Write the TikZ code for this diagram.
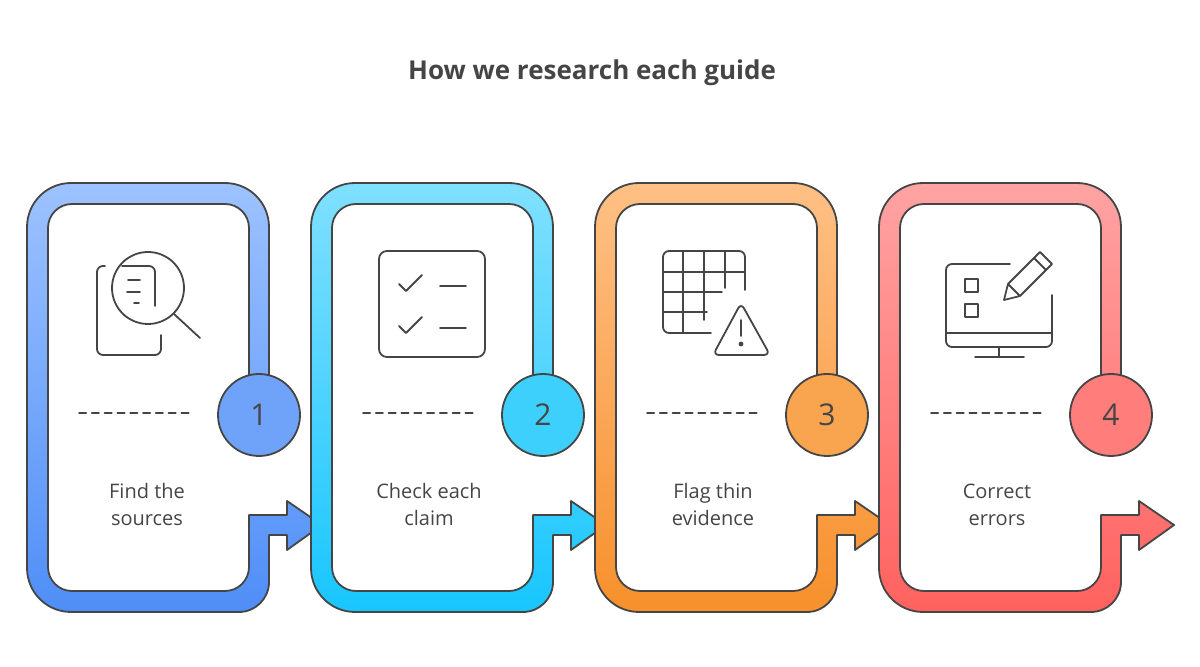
\documentclass[tikz,border=0pt]{standalone}
\usepackage{fontspec}
\setmainfont{Open Sans}
\definecolor{ink}{HTML}{454545}
\definecolor{blueT}{HTML}{9DC2FF}\definecolor{blueB}{HTML}{4F8EF7}\definecolor{blueC}{HTML}{6FA3FA}
\definecolor{cyanT}{HTML}{80E0FF}\definecolor{cyanB}{HTML}{18C6FF}\definecolor{cyanC}{HTML}{3DD0FC}
\definecolor{orngT}{HTML}{FFC085}\definecolor{orngB}{HTML}{F7902C}\definecolor{orngC}{HTML}{F9A54F}
\definecolor{redT}{HTML}{FFA3A3}\definecolor{redB}{HTML}{FF625F}\definecolor{redC}{HTML}{FF7D7A}
\newcommand{\stepband}[5]{% offset, top, bottom, circle, number
  \begin{scope}[xshift=#1*0.5pt]
    \path[band, top color=#2, bottom color=#3]
      (269,390) [rounded corners=22pt] -- (269,183) -- (27,183) -- (27,612) [rounded corners=15pt] -- (269,612)
      [sharp corners] -- (269,535) -- (287,535) -- (287,550) -- (322,525) -- (287,501) -- (287,515) -- (249,515)
      [rounded corners=12pt] -- (249,591) -- (48,591) -- (48,204) -- (249,204) [sharp corners] -- (249,390) -- cycle;
    \node[num circle, fill=#4] (c#5) at (259,415) {#5};
    \draw[icon, dash pattern=on 3.6pt off 2.8pt] (79,413) -- (193,413);
  \end{scope}}
\begin{document}
\begin{tikzpicture}[x=0.5pt,y=-0.5pt]
  \tikzset{
    band/.style={draw=ink, line width=0.9pt, line join=round},
    num circle/.style={circle, draw=ink, line width=0.9pt, minimum size=41pt, inner sep=0,
      font=\fontsize{15}{15}\selectfont, text=ink},
    icon/.style={draw=ink, line width=0.9pt, line cap=round, line join=round},
    label/.style={align=center, text=ink, font=\fontsize{10}{13.5}\selectfont}
  }
  \useasboundingbox (0,0) rectangle (1200,667);
  \node[text=ink, font=\bfseries\fontsize{13}{15}\selectfont] (title) at (592,73) {How we research each guide};
  \stepband{0}{blueT}{blueB}{blueC}{1}
  \stepband{284}{cyanT}{cyanB}{cyanC}{2}
  \stepband{568}{orngT}{orngB}{orngC}{3}
  \stepband{852}{redT}{redB}{redC}{4}
  \node[label] (t1) at (147,505) {Find the\\sources};
  \node[label] (t2) at (429,505) {Check each\\claim};
  \node[label] (t3) at (713,505) {Flag thin\\evidence};
  \node[label] (t4) at (997,505) {Correct\\errors};
  % icon 1: document under magnifier
  \draw[icon, rounded corners=3pt] (105,266) -- (97,266) -- (97,355) -- (161,355) -- (161,335);
  \draw[icon, rounded corners=3pt] (122,266) -- (155,266) -- (155,306);
  \draw[icon] (148,288) circle (18pt);
  \draw[icon] (174,314) -- (200,338);
  \draw[icon] (128,280) -- (140,280) (127,292) -- (140,292) (134,303) -- (139,303);
  % icon 2: checklist
  \draw[icon, rounded corners=4pt] (379,251) rectangle (485,357);
  \draw[icon] (399,284) -- (406,291) -- (422,275) (440,286) -- (466,286);
  \draw[icon] (399,326) -- (406,333) -- (422,317) (440,328) -- (466,328);
  % icon 3: table with warning
  \draw[icon, rounded corners=3pt] (711,333) -- (663,333) -- (663,251) -- (745,251) -- (745,290);
  \draw[icon] (663,272) -- (745,272) (663,292) -- (722,292) (663,312) -- (707,312)
    (683,251) -- (683,333) (704,251) -- (704,320) (725,251) -- (725,288);
  \draw[icon, rounded corners=3pt] (741,303) -- (770,355) -- (713,355) -- cycle;
  \draw[icon] (741,320) -- (741,336);
  \fill[ink] (741,344) circle (1.2pt);
  % icon 4: monitor with boxes and pencil
  \draw[icon, rounded corners=3pt] (1010,264) -- (946,264) -- (946,347) -- (1052,347) -- (1052,295);
  \draw[icon] (946,333) -- (1052,333) (999,347) -- (999,357) (975,357) -- (1024,357);
  \draw[icon] (965,279) rectangle (978,292) (965,304) rectangle (978,317);
  \draw[icon] (1004,300) -- (1008,284) -- (1040,252) -- (1052,264) -- (1020,296) -- cycle (1008,284) -- (1020,296) (1034,258) -- (1046,270);
\end{tikzpicture}
\end{document}
